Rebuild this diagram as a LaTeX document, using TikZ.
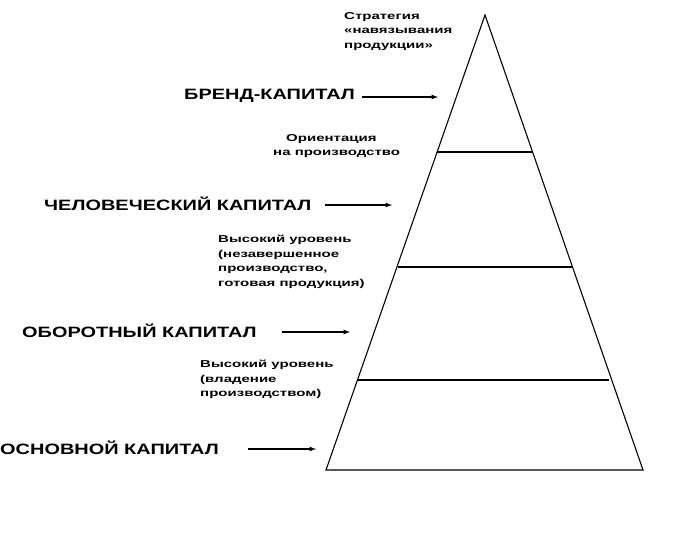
\documentclass[tikz,border=0pt]{standalone}
\usepackage{fontspec}
\setmainfont{Liberation Sans}
\newfontfamily\bigf[FakeStretch=1.33]{Liberation Sans}
\newfontfamily\smallf[FakeStretch=1.5]{Liberation Sans}
\begin{document}
\begin{tikzpicture}[x=1pt,y=-1pt,
  big/.style={font=\bigf\bfseries\fontsize{15}{17}\selectfont,anchor=west,inner sep=0},
  small/.style={font=\smallf\bfseries\fontsize{10}{14.5}\selectfont,anchor=north west,align=left,inner sep=0},
  arr/.style={-latex,line width=1.2pt},
  ln/.style={line width=1.1pt}]
\useasboundingbox (0,0) rectangle (688,540);
\coordinate (apex) at (485,15);
\coordinate (bl) at (326,470);
\coordinate (br) at (643,470);
\draw[ln] (apex) -- (bl) -- (br) -- cycle;
\coordinate (l1a) at (437,152); \coordinate (l1b) at (532,152);
\coordinate (l2a) at (398,267); \coordinate (l2b) at (572,267);
\coordinate (l3a) at (358,380); \coordinate (l3b) at (609,380);
\draw[ln] (l1a)--(l1b); \draw[ln] (l2a)--(l2b); \draw[ln] (l3a)--(l3b);

\node[small] (s1) at (344,12) {Стратегия\\«навязывания\\продукции»};
\node[big] (b1) at (184,96) {БРЕНД-КАПИТАЛ};
\coordinate (t1) at (438,97);
\coordinate (f1) at (362,97);
\draw[arr] (f1) -- (t1);
\node[small] (s2) at (273,134) {\hspace*{13pt}Ориентация\\на производство};
\node[big] (b2) at (44,204) {ЧЕЛОВЕЧЕСКИЙ КАПИТАЛ};
\coordinate (t2) at (392,205);
\coordinate (f2) at (325,205);
\draw[arr] (f2) -- (t2);
\node[small] (s3) at (218,235) {Высокий уровень\\(незавершенное\\производство,\\готовая продукция)};
\node[big] (b3) at (22,331) {ОБОРОТНЫЙ КАПИТАЛ};
\coordinate (t3) at (350,332);
\coordinate (f3) at (282,332);
\draw[arr] (f3) -- (t3);
\node[small] (s4) at (200,360) {Высокий уровень\\(владение\\производством)};
\node[big] (b4) at (0,448) {ОСНОВНОЙ КАПИТАЛ};
\coordinate (t4) at (316,449);
\coordinate (f4) at (248,449);
\draw[arr] (f4) -- (t4);
\end{tikzpicture}
\end{document}
